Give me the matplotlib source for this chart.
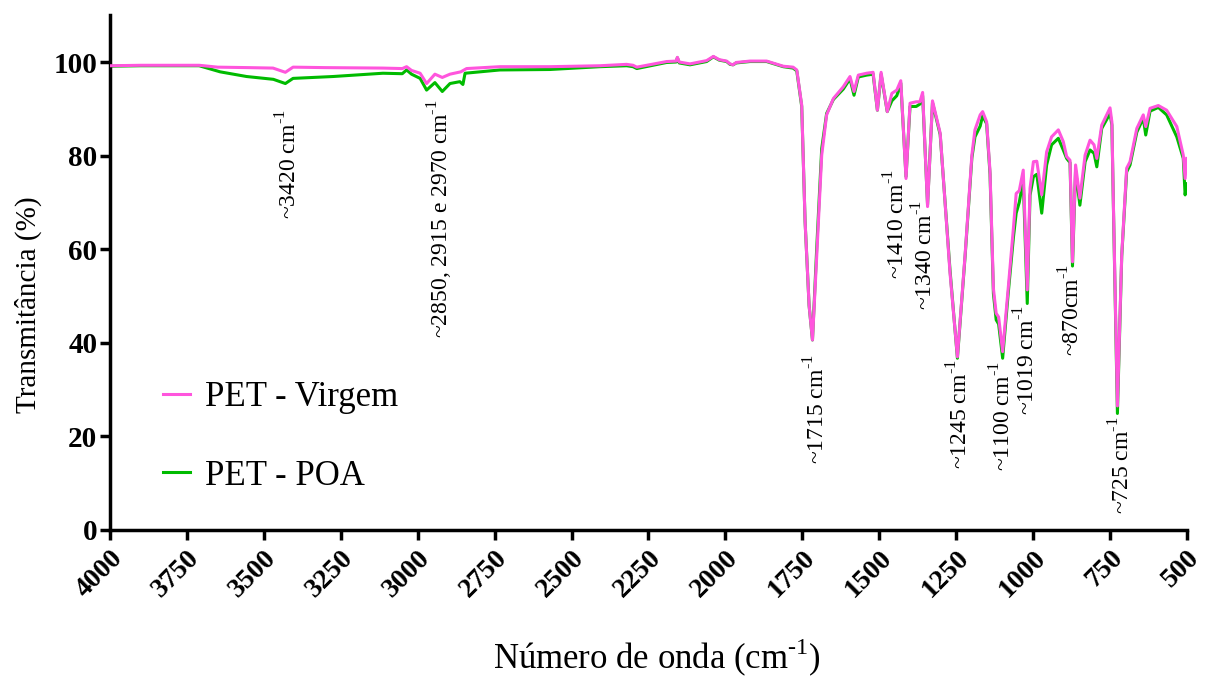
import matplotlib
matplotlib.use("Agg")
import matplotlib.pyplot as plt

# ---- data ----
wn_virgem = [4000, 3900, 3800, 3710, 3650, 3550, 3470, 3430, 3405, 3300, 3113, 3050, 3036, 3020,
             2992, 2971, 2944, 2920, 2895, 2860, 2841, 2733, 2570, 2408, 2321, 2300, 2288, 2191,
             2160, 2156, 2150, 2115, 2061, 2039, 2020, 1996, 1985, 1975, 1965, 1920, 1866, 1812,
             1780, 1768, 1752, 1741, 1728, 1717, 1703, 1687, 1671, 1649, 1617, 1595, 1582, 1568,
             1541, 1520, 1506, 1494, 1474, 1459, 1443, 1430, 1413, 1400, 1380, 1368, 1359, 1343,
             1327, 1302, 1270, 1246, 1221, 1199, 1189, 1172, 1164, 1151, 1140, 1129, 1120, 1112,
             1099, 1081, 1064, 1055, 1045, 1032, 1019, 1010, 999, 988, 972, 956, 940, 918, 902,
             891, 880, 872, 862, 848, 831, 815, 802, 793, 777, 750, 744, 739, 726, 712, 696, 685,
             663, 642, 634, 620, 593, 566, 533, 512, 506, 501]
t_virgem = [99.2, 99.3, 99.3, 99.3, 98.9, 98.8, 98.7, 97.8, 98.9, 98.8, 98.7, 98.6, 99.0, 98.2,
            97.6, 95.4, 97.4, 96.7, 97.4, 97.9, 98.6, 99.0, 99.0, 99.2, 99.5, 99.3, 98.9, 100.1,
            100.2, 101.0, 100.0, 99.6, 100.3, 101.2, 100.5, 100.2, 99.6, 99.4, 99.9, 100.2, 100.2, 99.1,
            98.9, 98.3, 90.8, 65.9, 48.0, 40.6, 58.8, 80.1, 88.7, 92.2, 94.7, 96.9, 93.7, 97.2,
            97.6, 97.8, 89.7, 97.8, 89.4, 93.3, 94.0, 96.0, 75.1, 91.2, 91.5, 91.5, 93.5, 69.1,
            91.7, 84.8, 54.9, 37.0, 58.8, 80.1, 85.5, 88.7, 89.4, 87.2, 76.6, 51.6, 46.3, 45.5,
            38.1, 51.6, 64.5, 71.9, 72.5, 76.9, 51.3, 73.0, 78.7, 78.8, 71.6, 80.8, 84.0, 85.5, 83.0,
            79.8, 79.0, 57.3, 78.0, 70.9, 80.1, 83.3, 82.3, 79.4, 86.5, 90.2, 87.2, 69.4, 26.5, 58.8, 77.3, 78.7,
            85.8, 88.7, 86.2, 90.1, 90.7, 89.7, 86.2, 80.1, 75.1, 79.4]

wn_poa = [4000, 3900, 3800, 3710, 3642, 3556, 3469, 3430, 3405, 3275, 3113, 3050, 3036, 3020,
          2992, 2971, 2944, 2920, 2895, 2863, 2853, 2846, 2733, 2570, 2408, 2321, 2300, 2288, 2191,
          2160, 2156, 2150, 2115, 2061, 2039, 2020, 1996, 1985, 1975, 1965, 1920, 1866, 1812,
          1780, 1768, 1752, 1741, 1728, 1717, 1703, 1687, 1671, 1649, 1617, 1595, 1582, 1568,
          1541, 1520, 1506, 1494, 1474, 1459, 1443, 1430, 1413, 1400, 1380, 1368, 1359, 1343,
          1327, 1302, 1270, 1246, 1221, 1199, 1189, 1172, 1164, 1151, 1140, 1129, 1120, 1112,
          1099, 1081, 1064, 1055, 1045, 1032, 1019, 1010, 999, 988, 972, 956, 940, 918, 902,
          891, 880, 872, 862, 848, 831, 815, 802, 793, 777, 750, 744, 739, 726, 712, 696, 685,
          663, 642, 634, 620, 593, 566, 533, 512, 506, 501]
t_poa = [99.1, 99.2, 99.2, 99.2, 97.9, 96.9, 96.3, 95.4, 96.5, 96.9, 97.6, 97.5, 98.3, 97.4,
         96.5, 94.0, 95.6, 93.7, 95.4, 95.8, 95.2, 97.6, 98.3, 98.4, 99.0, 99.2, 99.0, 98.6, 99.9,
         100.0, 100.9, 99.8, 99.4, 100.1, 101.1, 100.4, 100.1, 99.5, 99.4, 99.8, 100.1, 100.1, 99.0,
         98.7, 98.1, 90.5, 65.9, 48.0, 40.6, 60.5, 81.5, 89.0, 92.0, 94.2, 96.4, 92.9, 96.8,
         97.2, 97.4, 89.7, 97.4, 89.4, 91.7, 92.8, 95.5, 75.5, 90.5, 90.5, 91.0, 92.8, 69.5,
         91.3, 84.5, 55.5, 36.7, 58.5, 79.5, 84.0, 86.3, 88.5, 86.8, 76.0, 50.5, 44.9, 44.0,
         36.7, 50.5, 62.5, 67.7, 70.0, 74.8, 48.4, 71.5, 75.5, 76.0, 67.7, 78.0, 82.3, 83.7, 81.2,
         79.4, 78.5, 56.4, 76.9, 69.4, 78.7, 81.2, 80.5, 77.6, 85.8, 89.0, 86.5, 69.0, 24.9, 58.5, 76.5, 78.0,
         85.0, 88.0, 84.4, 89.5, 90.3, 88.7, 84.0, 79.4, 71.6, 74.0]

series_labels = ["PET - Virgem", "PET - POA"]
series_colors = ["#FF55DD", "#00BB00"]

x_ticks = [4000, 3750, 3500, 3250, 3000, 2750, 2500, 2250, 2000, 1750, 1500, 1250, 1000, 750, 500]
y_ticks = [0, 20, 40, 60, 80, 100]

# annotation labels: (text, x position, top y)
ann_text = ["~3420 cm$^{\\text{-1}}$", "~2850, 2915 e 2970 cm$^{\\text{-1}}$", "~1715 cm$^{\\text{-1}}$",
            "~1410 cm$^{\\text{-1}}$", "~1340 cm$^{\\text{-1}}$", "~1245 cm$^{\\text{-1}}$", "~1100 cm$^{\\text{-1}}$",
            "~1019 cm$^{\\text{-1}}$", "~870cm$^{\\text{-1}}$", "~725 cm$^{\\text{-1}}$"]
ann_x = [3420, 2927, 1702, 1442, 1351, 1237, 1098, 1020, 874, 711]
ann_y = [90.0, 92.0, 37.5, 77.0, 70.5, 36.5, 36.0, 48.0, 56.8, 24.2]

plt.rcParams['font.family'] = ['Liberation Serif', 'DejaVu Serif']
plt.rcParams['mathtext.fontset'] = 'custom'
plt.rcParams['mathtext.rm'] = 'Liberation Serif'

fig = plt.figure(figsize=(12.07, 6.82), dpi=100)
ax = fig.add_axes([0.0911, 0.2229, 0.8923, 0.7548])

ax.plot(wn_poa, t_poa, color=series_colors[1], lw=2.2, label=series_labels[1], zorder=2)
ax.plot(wn_virgem, t_virgem, color=series_colors[0], lw=2.2, label=series_labels[0], zorder=3)

ax.set_xlim(4000, 500)
ax.set_ylim(0, 110)
ax.set_xticks(x_ticks)
ax.set_yticks(y_ticks)
for lab in ax.get_xticklabels():
    lab.set_rotation(45)
    lab.set_ha('right')
    lab.set_rotation_mode('anchor')
    lab.set_fontweight('bold')
    lab.set_fontsize(20)
for lab in ax.get_yticklabels():
    lab.set_fontweight('bold')
    lab.set_fontsize(21)

ax.spines['top'].set_visible(False)
ax.spines['right'].set_visible(False)
ax.spines['left'].set_linewidth(2.5)
ax.spines['bottom'].set_linewidth(2.5)
ax.tick_params(axis='both', direction='out', length=7, width=2.5, pad=2)
ax.tick_params(axis='x', pad=4)

ax.set_ylabel("Transmitância (%)", fontsize=21)
ax.yaxis.set_label_coords(-0.063, 0.437)
ax.set_xlabel("Número de onda (cm$^{\\text{-1}}$)", fontsize=25)
ax.xaxis.set_label_coords(0.508, -0.208)

for t, x, y in zip(ann_text, ann_x, ann_y):
    ax.text(x, y, t, rotation=90, ha='center', va='top', fontsize=17)

handles, labels = ax.get_legend_handles_labels()
order = [1, 0]
ax.legend([handles[i] for i in order], [labels[i] for i in order],
          loc='lower left', bbox_to_anchor=(0.02, 0.012), frameon=False,
          fontsize=25, handlelength=0.78, handletextpad=0.45, labelspacing=1.3)

fig.savefig("out.png", dpi=100)
